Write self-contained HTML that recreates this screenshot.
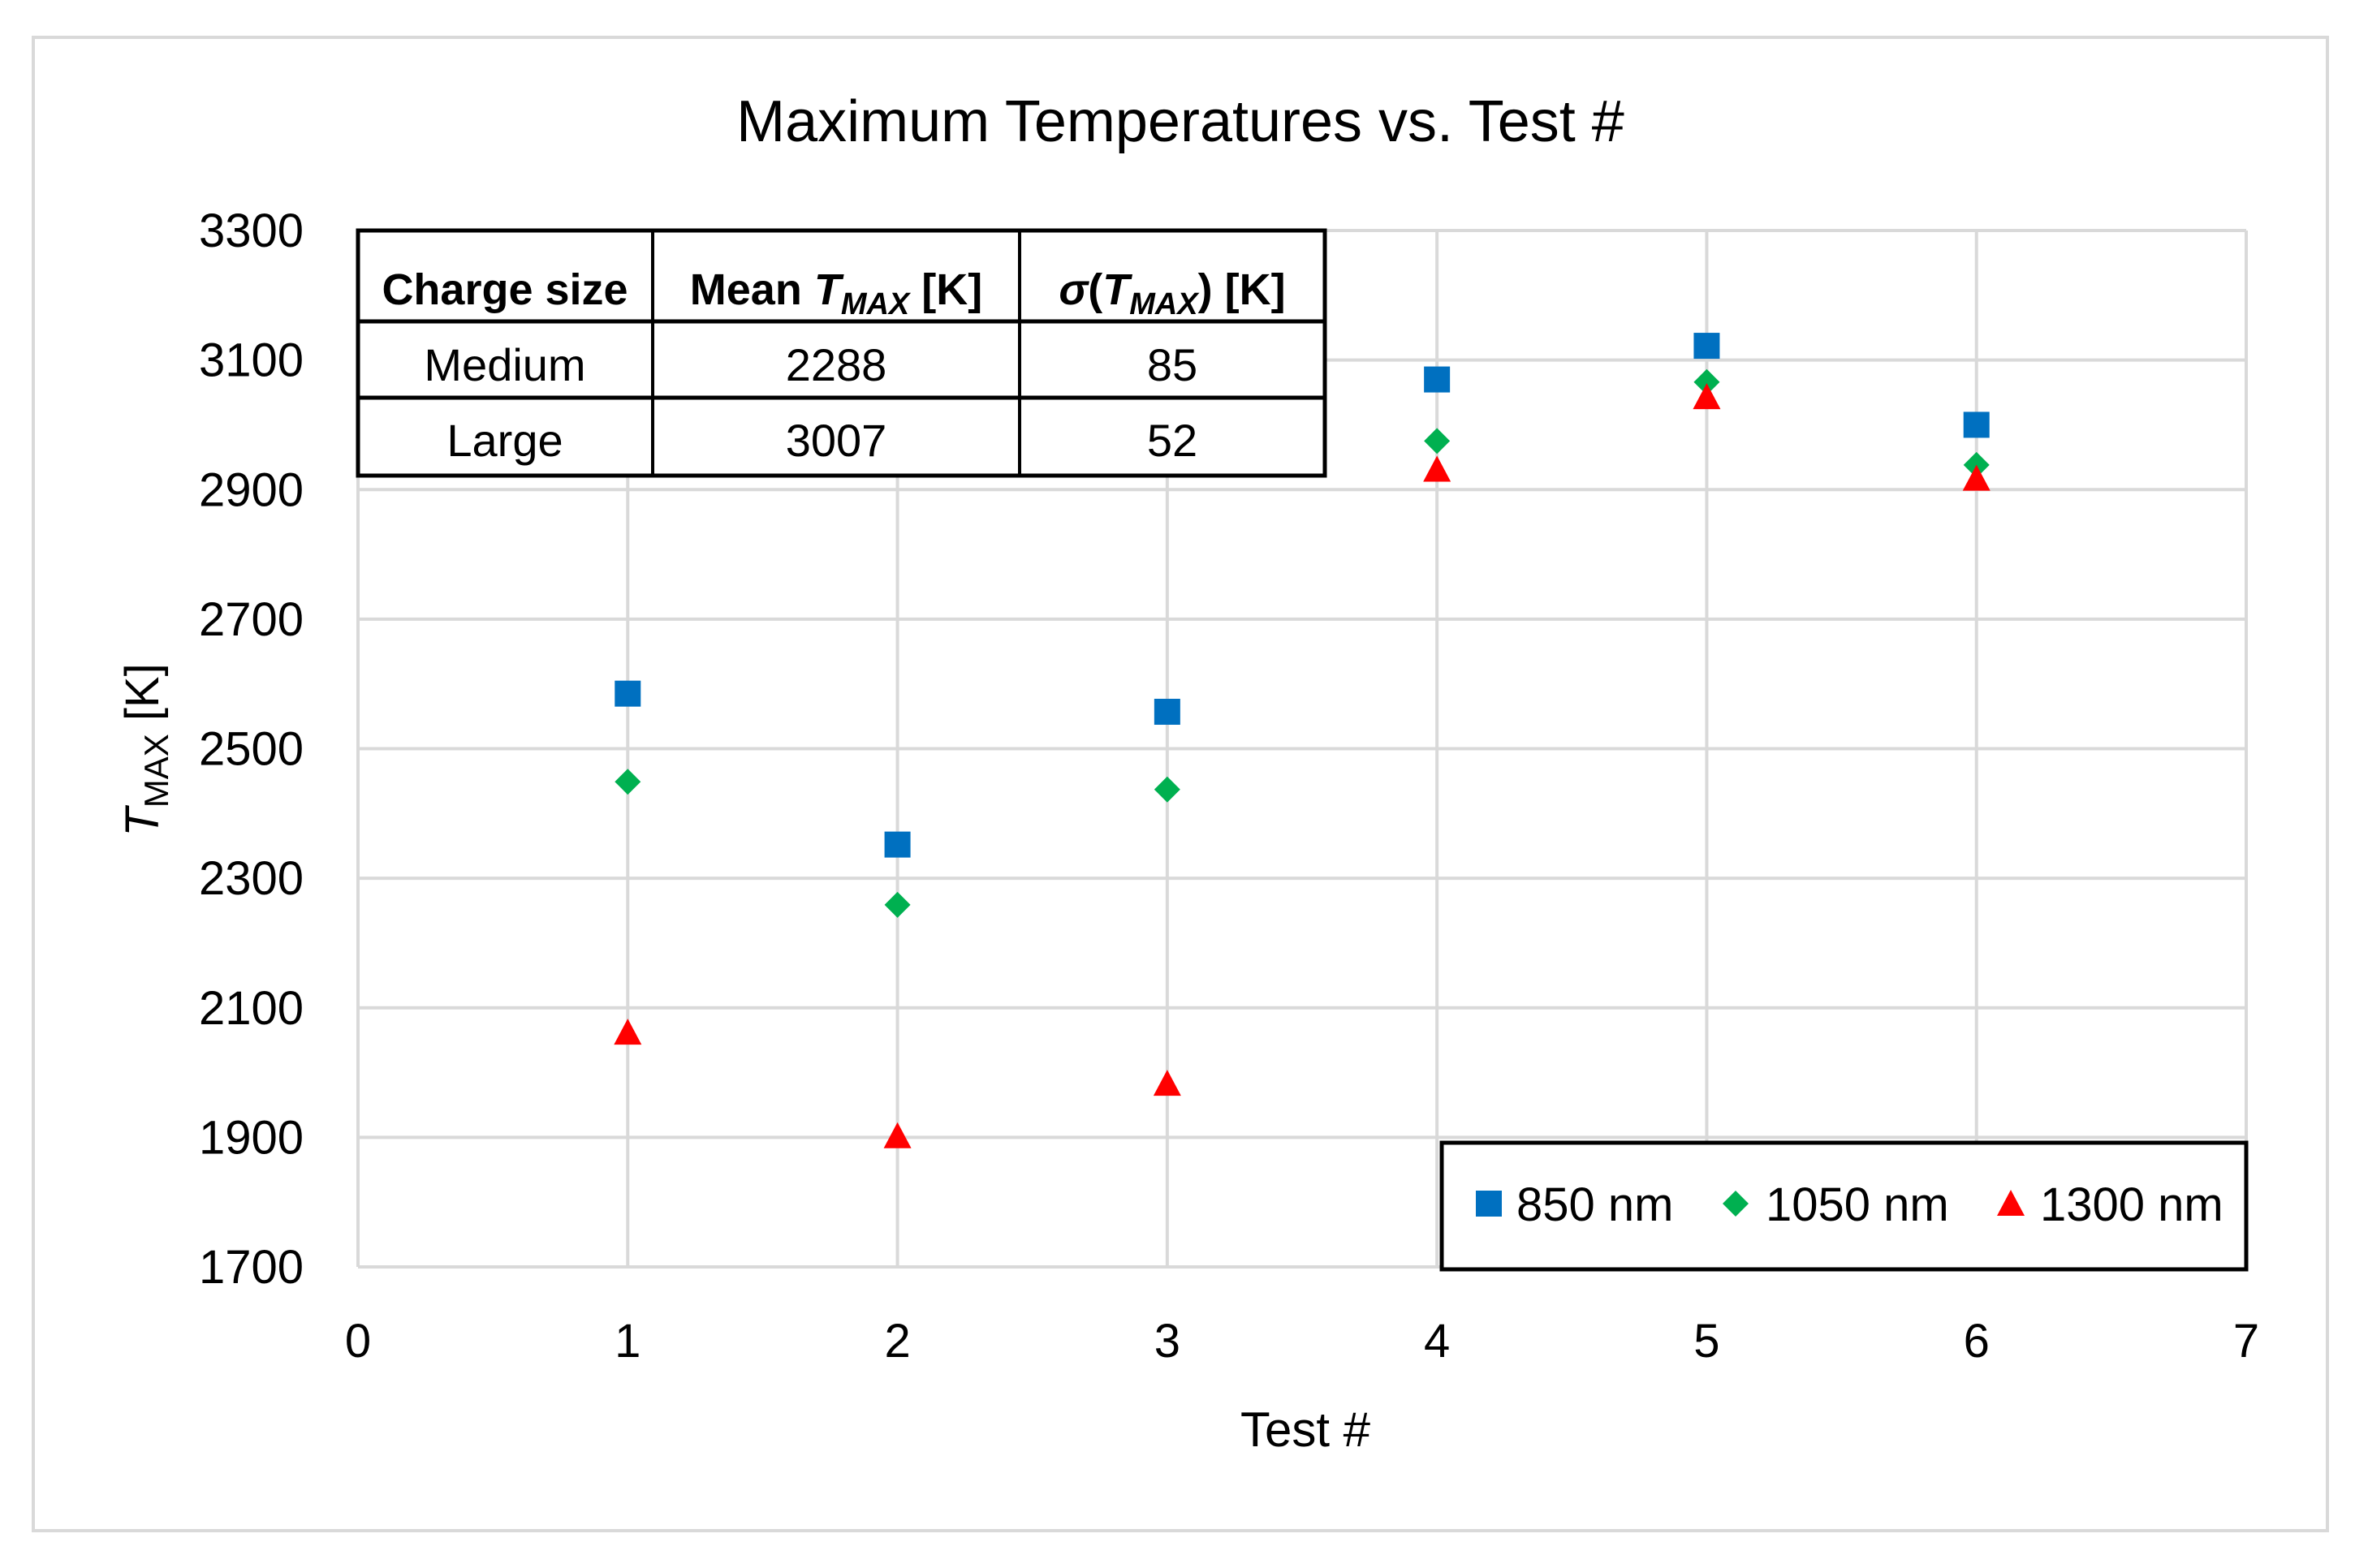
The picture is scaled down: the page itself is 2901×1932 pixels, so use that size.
<!DOCTYPE html>
<html><head><meta charset="utf-8"><style>
html,body{margin:0;padding:0;background:#fff}
svg{display:block}
text{font-family:"Liberation Sans",sans-serif;fill:#000}
</style></head><body>
<svg id="chart" width="2901" height="1932" viewBox="0 0 2901 1932">
<rect x="41" y="46" width="2826" height="1840" fill="#fff" stroke="#d9d9d9" stroke-width="4"/>
<text x="1454" y="174" font-size="72" text-anchor="middle">Maximum Temperatures  vs. Test #</text>
<g id="grid"></g>
<g id="yticks"></g>
<g id="xticks"></g>
<g id="marks"></g>
<text transform="translate(195,924) rotate(-90)" font-size="58" text-anchor="middle"><tspan font-style="italic">T</tspan><tspan font-size="42" dy="12">MAX</tspan><tspan dy="-12"> [K]</tspan></text>
<text x="1608" y="1782" font-size="60" text-anchor="middle">Test #</text>
<g>
<rect x="441" y="284" width="1191" height="302" fill="#fff" stroke="#000" stroke-width="5"/>
<line x1="804" y1="284" x2="804" y2="586" stroke="#000" stroke-width="4"/>
<line x1="1256" y1="284" x2="1256" y2="586" stroke="#000" stroke-width="4"/>
<line x1="441" y1="396" x2="1632" y2="396" stroke="#000" stroke-width="5"/>
<line x1="441" y1="490" x2="1632" y2="490" stroke="#000" stroke-width="5"/>
<text x="622" y="375" font-size="54" font-weight="bold" text-anchor="middle">Charge size</text>
<text x="1030" y="375" font-size="54" font-weight="bold" text-anchor="middle">Mean <tspan font-style="italic">T</tspan><tspan font-style="italic" font-size="38" dy="12">MAX</tspan><tspan dy="-12"> [K]</tspan></text>
<text x="1444" y="375" font-size="54" font-weight="bold" text-anchor="middle"><tspan font-style="italic">σ</tspan>(<tspan font-style="italic">T</tspan><tspan font-style="italic" font-size="38" dy="12">MAX</tspan><tspan dy="-12">) [K]</tspan></text>
<text x="622" y="469" font-size="56" text-anchor="middle">Medium</text>
<text x="1030" y="469" font-size="56" text-anchor="middle">2288</text>
<text x="1444" y="469" font-size="56" text-anchor="middle">85</text>
<text x="622" y="562" font-size="56" text-anchor="middle">Large</text>
<text x="1030" y="562" font-size="56" text-anchor="middle">3007</text>
<text x="1444" y="562" font-size="56" text-anchor="middle">52</text>
</g>
<g>
<rect x="1776" y="1408" width="991" height="156" fill="#fff" stroke="#000" stroke-width="5"/>
<rect x="1818" y="1467" width="32" height="32" fill="#0070c0"/>
<text x="1868" y="1504" font-size="58">850 nm</text>
<polygon points="2138,1467 2154,1483 2138,1499 2122,1483" fill="#00b050"/>
<text x="2175" y="1504" font-size="58">1050 nm</text>
<polygon points="2477,1466 2494,1498 2460,1498" fill="#ff0000"/>
<text x="2513" y="1504" font-size="58">1300 nm</text>
</g>
</svg>
<script>
const tests = [1, 2, 3, 4, 5, 6];
const s850 = [2585, 2352, 2557, 3070, 3122, 3000];
const s1050 = [2449, 2259, 2437, 2975, 3066, 2938];
const s1300 = [2062, 1902, 1983, 2931, 3043, 2917];
const yTickLabels = [1700, 1900, 2100, 2300, 2500, 2700, 2900, 3100, 3300];
const xTickLabels = [0, 1, 2, 3, 4, 5, 6, 7];

const NS = "http://www.w3.org/2000/svg";
const X0 = 441, X1 = 2767, Y0 = 1561, Y1 = 284;
function xs(v){ return X0 + (v - 0) / 7 * (X1 - X0); }
function ys(v){ return Y0 - (v - 1700) / 1600 * (Y0 - Y1); }
function mk(tag, attrs, parent){ const e = document.createElementNS(NS, tag); for (const k in attrs) e.setAttribute(k, attrs[k]); parent.appendChild(e); return e; }
const grid = document.getElementById('grid'), yt = document.getElementById('yticks'), xt = document.getElementById('xticks'), marks = document.getElementById('marks');
yTickLabels.forEach(v => {
  const l = mk('line', {x1: X0, x2: X1, y1: ys(v), y2: ys(v), stroke: '#d9d9d9', 'stroke-width': 4}, grid);
  
  
  const t = mk('text', {x: 374, y: ys(v) + 20, 'font-size': 58, 'text-anchor': 'end'}, yt);
  t.textContent = v;
  
  
});
xTickLabels.forEach(v => {
  const l = mk('line', {x1: xs(v), x2: xs(v), y1: Y1, y2: Y0, stroke: '#d9d9d9', 'stroke-width': 4}, grid);
  
  
  const t = mk('text', {x: xs(v), y: 1672, 'font-size': 58, 'text-anchor': 'middle'}, xt);
  t.textContent = v;
  
  
});
tests.forEach((t, i) => {
  const x = xs(t);
  let y = ys(s850[i]);
  const sq = mk('rect', {x: x - 16, y: y - 16, width: 32, height: 32, fill: '#0070c0'}, marks);
  
  
  y = ys(s1050[i]);
  const d = mk('polygon', {points: `${x},${y-16} ${x+16},${y} ${x},${y+16} ${x-16},${y}`, fill: '#00b050'}, marks);
  
  
  y = ys(s1300[i]);
  const tr = mk('polygon', {points: `${x},${y-17} ${x+17},${y+15} ${x-17},${y+15}`, fill: '#ff0000'}, marks);
  
  
});
</script>
</body></html>
